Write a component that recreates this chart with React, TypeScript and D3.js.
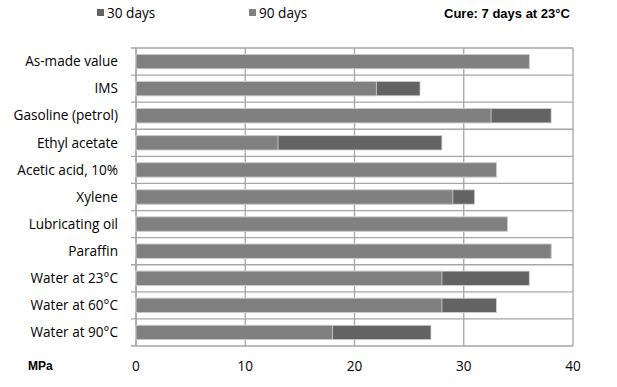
import React from "react";
import * as d3 from "d3";

const categories = [
  "As-made value",
  "IMS",
  "Gasoline (petrol)",
  "Ethyl acetate",
  "Acetic acid, 10%",
  "Xylene",
  "Lubricating oil",
  "Paraffin",
  "Water at 23°C",
  "Water at 60°C",
  "Water at 90°C",
];
const days30 = [36, 26, 38, 28, 33, 31, 34, 38, 36, 33, 27];
const days90 = [36, 22, 32.5, 13, 33, 29, 34, 38, 28, 28, 18];
const xTicks = [0, 10, 20, 30, 40];

const W = 617;
const H = 387;
const left = 136;
const right = 573;
const top = 48;
const bottom = 346;

export default function App() {
  const x = d3.scaleLinear().domain([0, 40]).range([left, right]);
  const y = d3.scaleBand<string>().domain(categories).range([top, bottom]).paddingInner(0.47).paddingOuter(0.235);
  const band = (bottom - top) / categories.length;
  const grid = "#a6a6a6";
  const c30 = "#636363";
  const c90 = "#808080";
  const font = "'Open Sans', 'DejaVu Sans', sans-serif";
  const fs = 13.6;
  return (
    <svg width={W} height={H} style={{ position: "absolute", left: 0, top: 0, background: "#fff" }}>
      {d3.range(categories.length + 1).map((i) => (
        <line key={"h" + i} x1={left - 5} x2={right} y1={top + i * band} y2={top + i * band} stroke={grid} strokeWidth={1.3} />
      ))}
      {xTicks.map((t) => (
        <line key={"v" + t} x1={x(t)} x2={x(t)} y1={top} y2={bottom} stroke={grid} strokeWidth={1.3} />
      ))}
      <line x1={left} x2={left} y1={top} y2={bottom} stroke={grid} strokeWidth={1.5} />
      {categories.map((c, i) => (
        <g key={c}>
          <rect x={x(0)} y={y(c)!} width={x(days30[i]) - x(0)} height={y.bandwidth()} fill={c30} stroke="#d4d4d4" strokeWidth={0.8} />
          <rect x={x(0)} y={y(c)!} width={x(days90[i]) - x(0)} height={y.bandwidth()} fill={c90} stroke="#d4d4d4" strokeWidth={0.8} />
        </g>
      ))}
      {categories.map((c) => (
        <text key={"l" + c} x={118} y={y(c)! + y.bandwidth() / 2} dy="0.35em" textAnchor="end" fontFamily={font} fontSize={fs} fill="#000">
          {c}
        </text>
      ))}
      {xTicks.map((t) => (
        <text key={"t" + t} x={x(t)} y={366} dy="0.35em" textAnchor="middle" fontFamily={font} fontSize={fs} fill="#000">
          {t}
        </text>
      ))}
      <text x={28} y={366} dy="0.35em" fontFamily="'Liberation Sans', Arial, sans-serif" fontWeight="bold" fontSize={12} fill="#000">
        MPa
      </text>
      <rect x={97} y={9} width={7} height={7} fill={c30} />
      <text x={107} y={13} dy="0.35em" fontFamily={font} fontSize={fs} fill="#000">30 days</text>
      <rect x={249} y={9} width={7} height={7} fill={c90} />
      <text x={259} y={13} dy="0.35em" fontFamily={font} fontSize={fs} fill="#000">90 days</text>
      <text x={444} y={13} dy="0.35em" fontFamily="'Liberation Sans', Arial, sans-serif" fontWeight="bold" fontSize={13} fill="#000">
        Cure: 7 days at 23°C
      </text>
    </svg>
  );
}
